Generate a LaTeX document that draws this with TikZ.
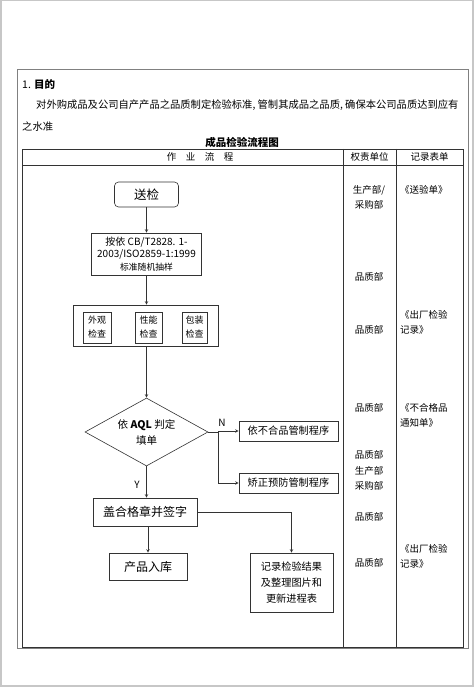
\documentclass[tikz,border=0pt]{standalone}
\usepackage{fontspec}
\setmainfont{Noto Sans CJK SC}
\usetikzlibrary{arrows,shapes,positioning}
\definecolor{linecolor}{gray}{0.2}
\definecolor{pagegray}{gray}{0.78}
\tikzset{
	box/.style={
		rectangle,
		draw=linecolor,
		line width=0.6pt,
		fill=white,
		inner sep=1pt,
		align=center,
		font=\fontsize{10.2}{13}\selectfont
	},
	roundbox/.style={
		box,
		rounded corners=4pt,
		font=\fontsize{12.5}{15}\selectfont
	},
	bigbox/.style={
		box,
		font=\fontsize{12}{15}\selectfont
	},
	smallbox/.style={
		box,
		minimum width=27pt,
		minimum height=31pt,
		font=\fontsize{9}{14}\selectfont
	},
	decision/.style={
		diamond,
		draw=linecolor,
		line width=0.6pt,
		aspect=1.8,
		inner sep=0pt,
		minimum width=123pt,
		minimum height=68pt,
		align=center,
		font=\fontsize{10.5}{16}\selectfont
	},
	arrow/.style={
		draw=linecolor,
		line width=0.6pt,
		->,
		>=stealth
	},
	link/.style={
		draw=linecolor,
		line width=0.6pt
	},
	coltext/.style={
		inner sep=0pt,
		align=center,
		font=\fontsize{9.5}{15.5}\selectfont
	},
	formtext/.style={
		coltext,
		anchor=west,
		align=left
	},
	branchlabel/.style={
		inner sep=0pt,
		font=\fontsize{10}{12}\selectfont
	},
}
\begin{document}
\begin{tikzpicture}[x=1pt,y=-1pt]
	% page and frame
	\fill[pagegray] (0,0) rectangle (474,687);
	\fill[white] (2,1.5) rectangle (471.5,684.5);
	\useasboundingbox (0,0) rectangle (474,687);
	\draw[gray, line width=0.8pt] (17,69) rectangle (468,648.5);
	\draw[linecolor, line width=0.7pt] (22,149) rectangle (463,647);
	\draw[linecolor, line width=0.6pt] (22,165) -- (463,165);
	\draw[linecolor, line width=0.6pt] (343,149) -- (343,647);
	\draw[linecolor, line width=0.6pt] (396,149) -- (396,647);
	% heading text
	\node[anchor=west, inner sep=0pt, font=\fontsize{10.5}{13}\selectfont] (head) at (22,85) {1. \textbf{目的}};
	\node[anchor=west, inner sep=0pt, font=\fontsize{10.3}{13}\selectfont] (para1) at (36,105) {对外购成品及公司自产产品之品质制定检验标准, 管制其成品之品质, 确保本公司品质达到应有};
	\node[anchor=west, inner sep=0pt, font=\fontsize{10.3}{13}\selectfont] (para2) at (22,127) {之水准};
	\node[inner sep=0pt, font=\bfseries\fontsize{10.5}{13}\selectfont] (title) at (242,142) {成品检验流程图};
	\node[coltext] (hflow) at (200,157) {作\quad 业\quad 流\quad 程};
	\node[coltext] (hdept) at (369.5,157) {权责单位};
	\node[coltext] (hform) at (429.5,157) {记录表单};
	% flow chart
	\node[roundbox, minimum width=64pt, minimum height=25pt] (send) at (146.5,194.5) {送检};
	\node[box, minimum width=110pt, minimum height=42pt, font=\fontsize{10}{12.5}\selectfont] (sample) at (146.5,254) {按依 CB/T2828. 1-\\2003/ISO2859-1:1999\\{\fontsize{8.8}{11}\selectfont 标准随机抽样}};
	\node[box, minimum width=145pt, minimum height=41pt] (group) at (145.5,325.5) {};
	\node[smallbox, minimum width=28pt] (look) at (97,327.5) {外观\\检查};
	\node[smallbox] (perf) at (148.5,327.5) {性能\\检查};
	\node[smallbox, minimum width=25pt] (pack) at (194.5,327.5) {包装\\检查};
	\node[decision] (aql) at (146.5,432) {依 \textbf{AQL} 判定\\填单};
	\node[box, minimum width=99pt, minimum height=20pt] (ngproc) at (288.5,431) {依不合品管制程序};
	\node[box, minimum width=99pt, minimum height=20pt] (cpproc) at (288.5,483) {矫正预防管制程序};
	\node[bigbox, minimum width=104pt, minimum height=28pt] (stamp) at (145,512) {盖合格章并签字};
	\node[bigbox, minimum width=78pt, minimum height=27pt] (store) at (148,566.5) {产品入库};
	\node[box, minimum width=83pt, minimum height=59pt, font=\fontsize{10.2}{16}\selectfont] (record) at (291.5,582.5) {记录检验结果\\及整理图片和\\更新进程表};
	\coordinate (split) at (218,432);
	% connectors
	\draw[arrow] (send.south) -- (send.south |- sample.north);
	\draw[arrow] (sample.south) -- (sample.south |- group.north);
	\draw[arrow] (group.south -| aql.north) -- (aql.north);
	\draw[link] (aql.east) -- (split);
	\draw[arrow] (split) -- (split |- ngproc.west) -- (ngproc.west);
	\draw[arrow] (split) |- (cpproc.west);
	\draw[arrow] (aql.south) -- (aql.south |- stamp.north);
	\draw[arrow] (stamp.south -| store.north) -- (store.north);
	\draw[arrow] (stamp.east) -| (record.north);
	\node[branchlabel] (nlabel) at (222,423) {N};
	\node[branchlabel] (ylabel) at (137,485) {Y};
	% responsible departments and forms
	\node[coltext] (d1) at (369,197.5) {生产部/\\采购部};
	\node[formtext] (f1) at (400,190) {《送验单》};
	\node[coltext] (d2) at (369,277) {品质部};
	\node[coltext] (d3) at (369,330) {品质部};
	\node[formtext] (f3) at (400,322.5) {《出厂检验\\记录》};
	\node[coltext] (d4) at (369,408) {品质部};
	\node[formtext] (f4) at (400,415.5) {《不合格品\\通知单》};
	\node[coltext] (d5) at (369,470.5) {品质部\\生产部\\采购部};
	\node[coltext] (d6) at (369,517) {品质部};
	\node[coltext] (d7) at (369,563) {品质部};
	\node[formtext] (f7) at (400,556.5) {《出厂检验\\记录》};
\end{tikzpicture}
\end{document}
